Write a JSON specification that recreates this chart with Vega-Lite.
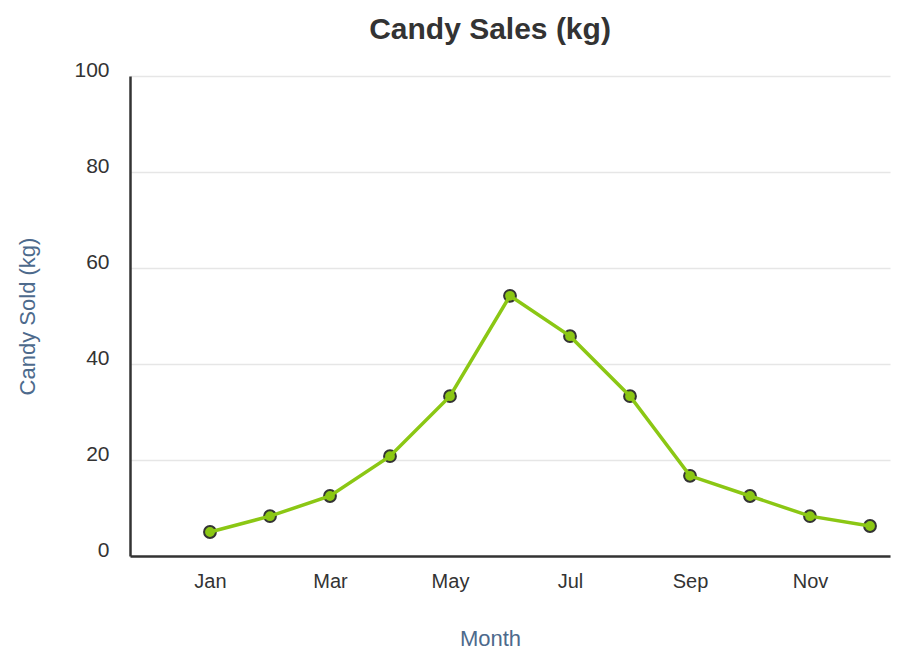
{
  "$schema": "https://vega.github.io/schema/vega-lite/v6.json",
  "width": 760,
  "height": 480,
  "autosize": {"type": "none"},
  "padding": {"left": 130, "top": 76, "right": 18, "bottom": 108},
  "background": "white",
  "config": {
    "font": "Liberation Sans",
    "view": {"stroke": null}
  },
  "title": {
    "text": "Candy Sales (kg)",
    "fontSize": 30,
    "fontWeight": "bold",
    "color": "#333333",
    "offset": 14,
    "dx": -20
  },
  "data": {
    "values": [
      {"month": 1, "name": "Jan", "kg": 5},
      {"month": 2, "name": "Feb", "kg": 8.3},
      {"month": 3, "name": "Mar", "kg": 12.5},
      {"month": 4, "name": "Apr", "kg": 20.8},
      {"month": 5, "name": "May", "kg": 33.3},
      {"month": 6, "name": "Jun", "kg": 54.2},
      {"month": 7, "name": "Jul", "kg": 45.8},
      {"month": 8, "name": "Aug", "kg": 33.3},
      {"month": 9, "name": "Sep", "kg": 16.7},
      {"month": 10, "name": "Oct", "kg": 12.5},
      {"month": 11, "name": "Nov", "kg": 8.3},
      {"month": 12, "name": "Dec", "kg": 6.25}
    ]
  },
  "encoding": {
    "x": {
      "field": "month",
      "type": "quantitative",
      "scale": {"domain": [-0.333, 12.333], "nice": false, "zero": false},
      "axis": {
        "title": "Month",
        "values": [1, 3, 5, 7, 9, 11],
        "labelExpr": "['','Jan','Feb','Mar','Apr','May','Jun','Jul','Aug','Sep','Oct','Nov','Dec'][datum.value]",
        "grid": false,
        "ticks": false,
        "domainColor": "#333333",
        "domainWidth": 2.5,
        "labelFontSize": 20,
        "labelColor": "#333333",
        "labelPadding": 15,
        "titleFontSize": 22,
        "titleFontWeight": "normal",
        "titleColor": "#4d6a8c",
        "titleX": 360,
        "titleY": 82,
        "titleBaseline": "middle"
      }
    },
    "y": {
      "field": "kg",
      "type": "quantitative",
      "scale": {"domain": [0, 100], "nice": false},
      "axis": {
        "title": "Candy Sold (kg)",
        "values": [0, 20, 40, 60, 80, 100],
        "grid": true,
        "gridColor": "#e6e6e6",
        "gridWidth": 1.5,
        "ticks": false,
        "domainColor": "#333333",
        "domainWidth": 2.5,
        "labelFontSize": 21,
        "labelColor": "#333333",
        "labelPadding": 21,
        "labelBaseline": "middle",
        "labelOffset": -6,
        "titleFontSize": 22,
        "titleFontWeight": "normal",
        "titleColor": "#4d6a8c",
        "titleX": -103,
        "titleY": 240,
        "titleAngle": -90,
        "titleBaseline": "middle"
      }
    }
  },
  "layer": [
    {
      "mark": {"type": "point", "filled": true, "fill": "#8bc714", "stroke": "#333333", "strokeWidth": 2, "size": 140, "opacity": 1}
    },
    {
      "mark": {"type": "line", "color": "#8bc714", "strokeWidth": 3.5}
    }
  ]
}
